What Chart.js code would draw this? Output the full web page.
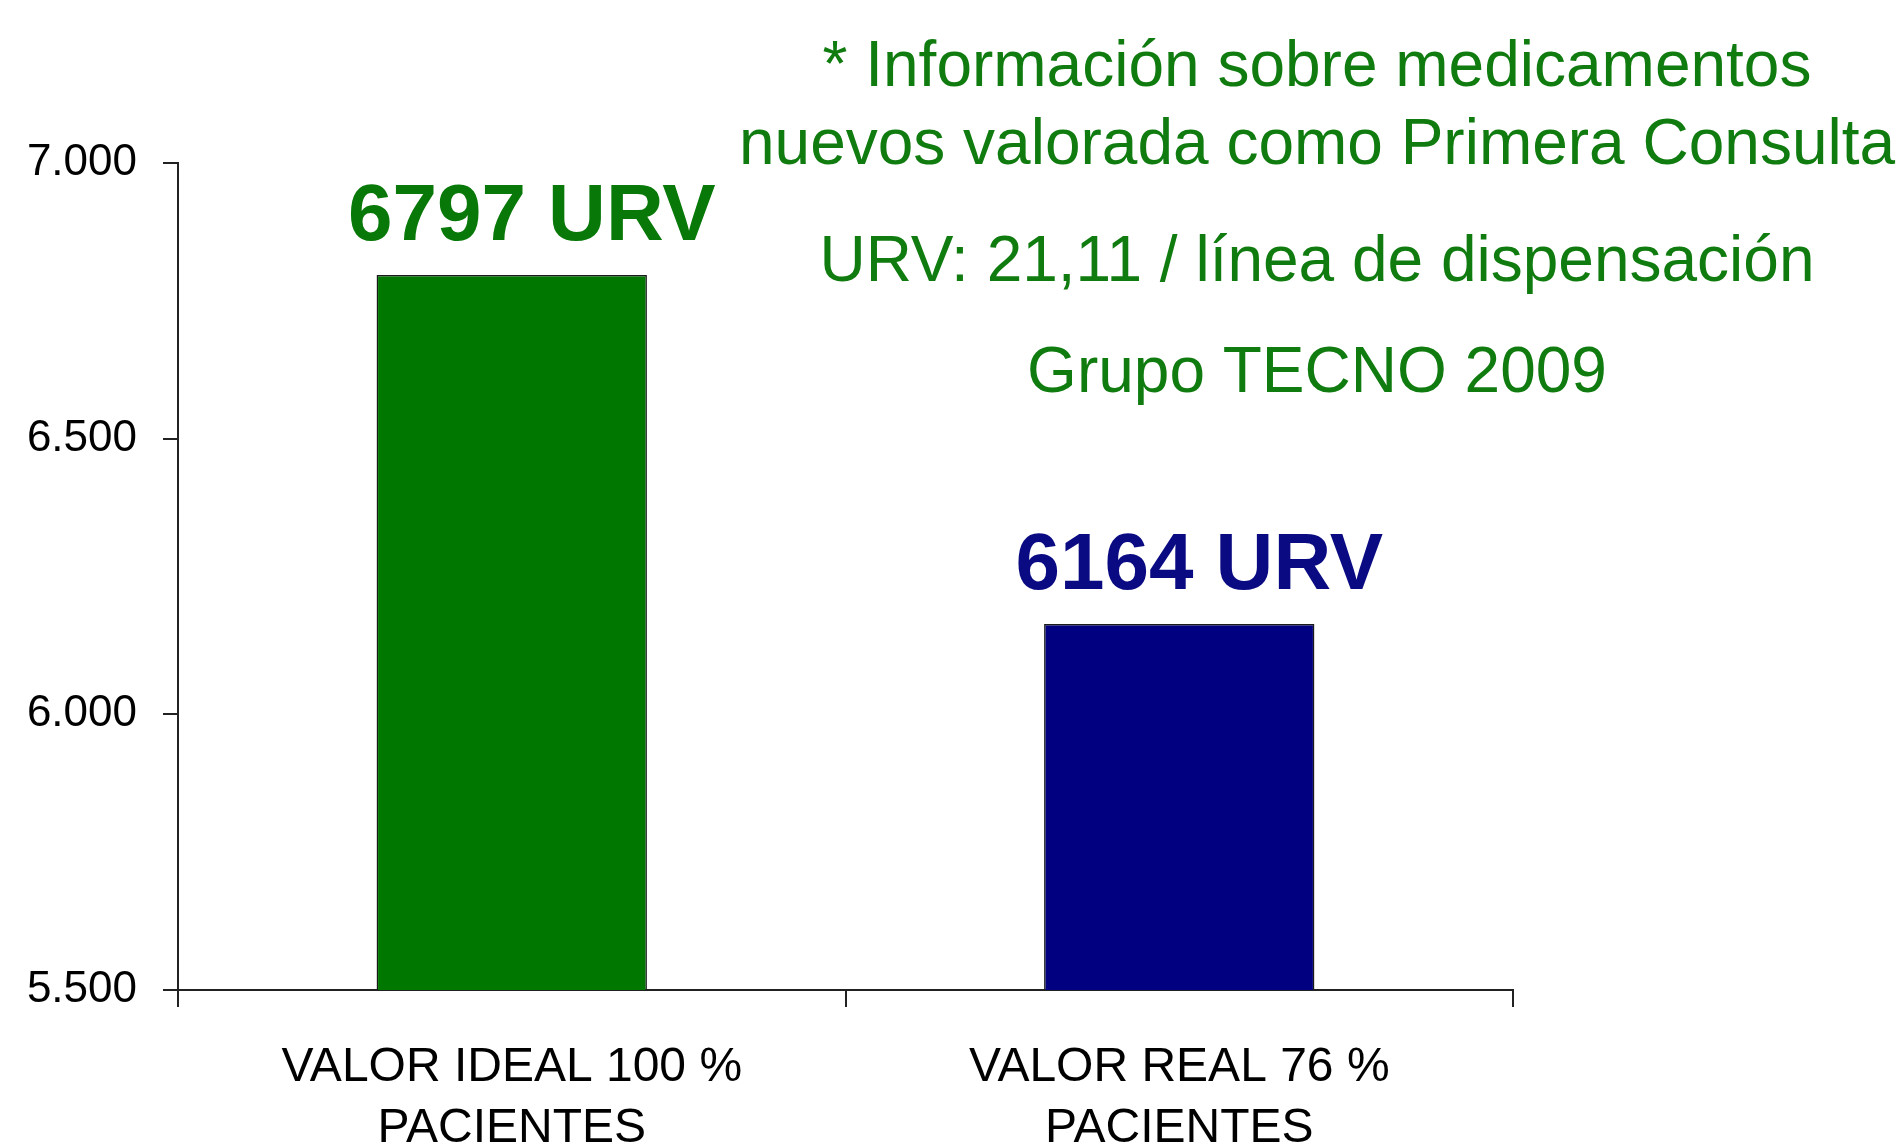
<!DOCTYPE html>
<html>
<head>
<meta charset="utf-8">
<script src="https://cdn.jsdelivr.net/npm/chart.js@4"></script>
<style>
  html, body { margin: 0; padding: 0; background: #ffffff; }
  canvas { display: block; }
</style>
</head>
<body>
<canvas id="c" width="1902" height="1148"></canvas>
<script>
const categories = [["VALOR IDEAL 100 %", "PACIENTES"], ["VALOR REAL 76 %", "PACIENTES"]];
const values = [6797, 6164];
const valueSuffix = " URV";
const yTicks = [5500, 6000, 6500, 7000];
const notes = [
  "* Información sobre medicamentos",
  "nuevos valorada como Primera Consulta",
  "URV: 21,11 / línea de dispensación",
  "Grupo TECNO 2009"
];

const barColors = ["#007800", "#000080"];
const labelColors = ["#087808", "#0a0a82"];
const noteColor = "#107c10";
const noteBaselines = [86, 164, 281, 392];
const FONT = "'Liberation Sans', Arial, sans-serif";

function fmt(v) {
  return String(v).replace(/\B(?=(\d{3})+(?!\d))/g, ".");
}

const valueLabels = {
  id: "valueLabels",
  afterDatasetsDraw(chart) {
    const ctx = chart.ctx;
    const meta = chart.getDatasetMeta(0);
    ctx.save();
    ctx.font = "bold 80px " + FONT;
    ctx.textAlign = "center";
    ctx.textBaseline = "alphabetic";
    meta.data.forEach((bar, i) => {
      ctx.fillStyle = labelColors[i];
      ctx.fillText(values[i] + valueSuffix, bar.x + 20, bar.y - 35);
    });
    ctx.restore();
  }
};

const notesPlugin = {
  id: "notes",
  afterDraw(chart) {
    const ctx = chart.ctx;
    ctx.save();
    ctx.font = "64px " + FONT;
    ctx.textAlign = "center";
    ctx.textBaseline = "alphabetic";
    ctx.fillStyle = noteColor;
    notes.forEach((t, i) => ctx.fillText(t, 1317, noteBaselines[i]));
    ctx.restore();
  }
};

new Chart(document.getElementById("c"), {
  type: "bar",
  data: {
    labels: categories,
    datasets: [{
      data: values,
      backgroundColor: barColors,
      borderColor: "#1a1a1a",
      borderWidth: 1.5,
      borderSkipped: false,
      barPercentage: 0.405,
      categoryPercentage: 1.0
    }]
  },
  options: {
    responsive: false,
    devicePixelRatio: 1,
    animation: false,
    layout: { padding: { top: 163, right: 389, left: 0, bottom: 0 } },
    plugins: {
      legend: { display: false },
      tooltip: { enabled: false },
      title: { display: false }
    },
    scales: {
      x: {
        grid: {
          offset: true,
          drawOnChartArea: false,
          drawTicks: true,
          tickLength: 17,
          color: "#222222",
          lineWidth: 2
        },
        border: { display: true, color: "#222222", width: 2 },
        ticks: {
          color: "#000000",
          font: { family: FONT, size: 48, lineHeight: 1.28 },
          padding: 30,
          maxRotation: 0,
          autoSkip: false
        },
        afterFit(scale) { scale.height = 158; }
      },
      y: {
        min: yTicks[0],
        max: yTicks[yTicks.length - 1],
        afterBuildTicks(scale) { scale.ticks = yTicks.map(v => ({ value: v })); },
        grid: {
          drawOnChartArea: false,
          drawTicks: true,
          tickLength: 15,
          color: "#222222",
          lineWidth: 2
        },
        border: { display: true, color: "#222222", width: 2 },
        ticks: {
          color: "#000000",
          font: { family: FONT, size: 44 },
          padding: 26,
          callback: (v) => fmt(v)
        },
        afterFit(scale) { scale.width = 178; }
      }
    }
  },
  plugins: [valueLabels, notesPlugin]
});
</script>
</body>
</html>
